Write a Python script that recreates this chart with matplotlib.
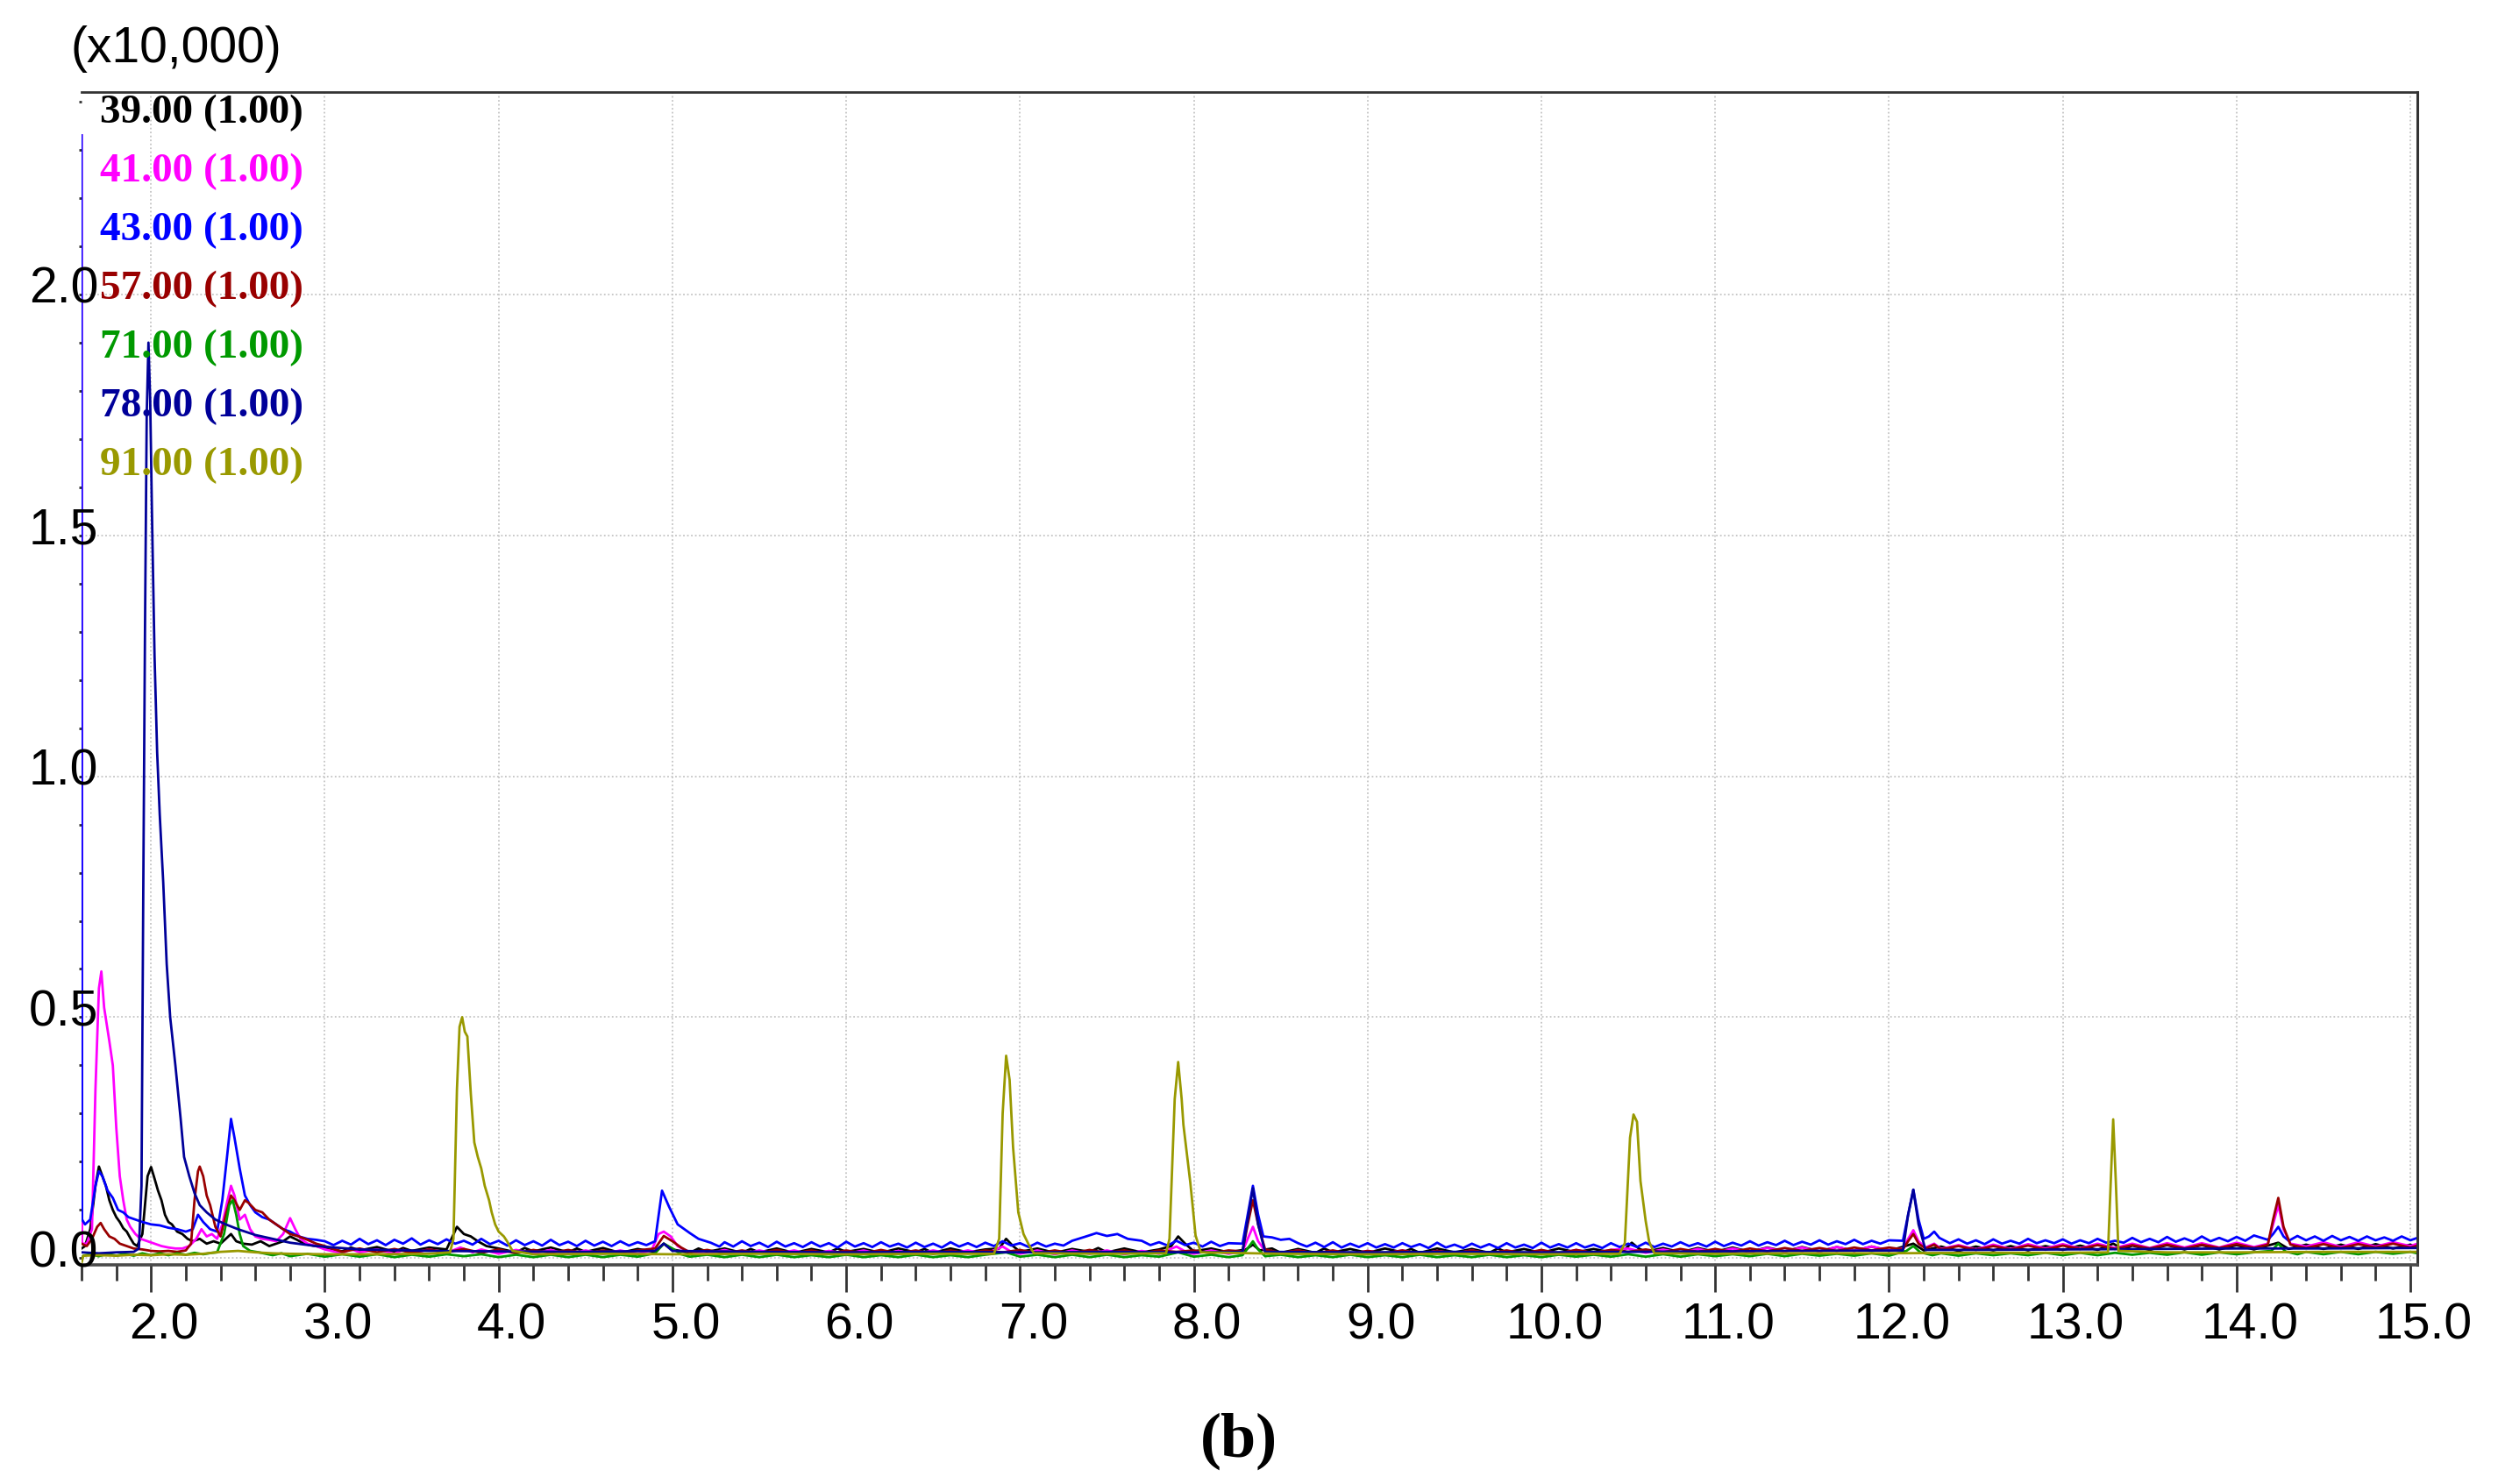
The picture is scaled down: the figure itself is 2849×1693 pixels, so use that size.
import matplotlib
matplotlib.use("Agg")
import matplotlib.pyplot as plt
import matplotlib.transforms as mtransforms
import numpy as np

# ion traces (retention time in min, intensity in x10,000 counts)
ion39 = [(1.600, 0.020), (1.620, 0.025), (1.650, 0.060), (1.680, 0.150), (1.700, 0.190), (1.720, 0.170),
         (1.740, 0.150), (1.760, 0.120), (1.780, 0.100), (1.800, 0.085), (1.820, 0.075), (1.840, 0.062),
         (1.860, 0.055), (1.880, 0.042), (1.900, 0.030), (1.920, 0.025), (1.950, 0.050), (1.980, 0.170),
         (2.000, 0.189), (2.020, 0.165), (2.040, 0.140), (2.060, 0.120), (2.080, 0.090), (2.100, 0.075),
         (2.120, 0.070), (2.150, 0.055), (2.180, 0.050), (2.210, 0.040), (2.240, 0.035), (2.280, 0.040),
         (2.320, 0.030), (2.360, 0.035), (2.400, 0.030), (2.430, 0.040), (2.460, 0.050), (2.490, 0.035),
         (2.530, 0.030), (2.580, 0.028), (2.630, 0.035), (2.680, 0.025), (2.720, 0.030), (2.760, 0.035),
         (2.800, 0.045), (2.840, 0.038), (2.880, 0.030), (2.930, 0.026), (3.000, 0.022), (3.100, 0.014),
         (3.150, 0.022), (3.200, 0.016), (3.300, 0.023), (3.400, 0.013), (3.450, 0.021), (3.500, 0.015),
         (3.600, 0.022), (3.700, 0.018), (3.760, 0.065), (3.800, 0.050), (3.840, 0.045), (3.880, 0.035),
         (3.930, 0.025), (4.000, 0.020), (4.100, 0.012), (4.150, 0.021), (4.200, 0.014), (4.300, 0.022),
         (4.400, 0.012), (4.450, 0.020), (4.500, 0.013), (4.600, 0.021), (4.700, 0.011), (4.800, 0.019),
         (4.900, 0.013), (4.950, 0.030), (5.000, 0.018), (5.100, 0.011), (5.150, 0.020), (5.200, 0.013),
         (5.300, 0.020), (5.400, 0.011), (5.450, 0.019), (5.500, 0.012), (5.600, 0.020), (5.700, 0.011),
         (5.800, 0.019), (5.900, 0.012), (5.950, 0.020), (6.000, 0.013), (6.100, 0.019), (6.200, 0.011),
         (6.300, 0.020), (6.400, 0.012), (6.450, 0.019), (6.500, 0.011), (6.600, 0.020), (6.700, 0.012),
         (6.800, 0.018), (6.880, 0.020), (6.920, 0.040), (6.960, 0.025), (7.000, 0.013), (7.100, 0.020),
         (7.200, 0.011), (7.300, 0.019), (7.400, 0.013), (7.450, 0.021), (7.500, 0.012), (7.600, 0.020),
         (7.700, 0.012), (7.800, 0.018), (7.870, 0.025), (7.910, 0.045), (7.950, 0.030), (8.000, 0.014),
         (8.100, 0.020), (8.200, 0.012), (8.300, 0.018), (8.340, 0.028), (8.380, 0.016), (8.450, 0.020),
         (8.500, 0.011), (8.600, 0.019), (8.700, 0.011), (8.750, 0.020), (8.800, 0.012), (8.900, 0.019),
         (9.000, 0.011), (9.100, 0.020), (9.200, 0.012), (9.250, 0.019), (9.300, 0.011), (9.400, 0.020),
         (9.500, 0.012), (9.600, 0.019), (9.700, 0.011), (9.750, 0.020), (9.800, 0.012), (9.900, 0.019),
         (10.000, 0.011), (10.100, 0.020), (10.200, 0.012), (10.300, 0.019), (10.400, 0.012), (10.480, 0.018),
         (10.520, 0.032), (10.560, 0.020), (10.600, 0.013), (10.700, 0.021), (10.800, 0.012), (10.900, 0.021),
         (11.000, 0.013), (11.100, 0.022), (11.200, 0.013), (11.300, 0.022), (11.400, 0.014), (11.500, 0.023),
         (11.600, 0.014), (11.700, 0.023), (11.800, 0.015), (11.900, 0.024), (12.000, 0.015), (12.140, 0.030),
         (12.200, 0.016), (12.300, 0.024), (12.400, 0.015), (12.500, 0.024), (12.600, 0.016), (12.700, 0.025),
         (12.800, 0.016), (12.900, 0.025), (13.000, 0.017), (13.100, 0.026), (13.200, 0.017), (13.290, 0.030),
         (13.350, 0.018), (13.400, 0.026), (13.500, 0.017), (13.600, 0.027), (13.700, 0.018), (13.800, 0.027),
         (13.900, 0.018), (14.000, 0.027), (14.100, 0.018), (14.240, 0.032), (14.300, 0.019), (14.400, 0.028),
         (14.500, 0.019), (14.600, 0.028), (14.700, 0.019), (14.800, 0.029), (14.900, 0.020), (15.000, 0.028),
         (15.040, 0.022)]

ion41 = [(1.600, 2.330), (1.603, 0.030), (1.630, 0.030), (1.660, 0.060), (1.680, 0.350), (1.700, 0.560),
         (1.714, 0.595), (1.730, 0.520), (1.760, 0.450), (1.780, 0.400), (1.800, 0.270), (1.820, 0.170),
         (1.840, 0.120), (1.860, 0.080), (1.880, 0.065), (1.910, 0.050), (1.940, 0.040), (1.980, 0.035),
         (2.020, 0.030), (2.060, 0.025), (2.100, 0.022), (2.140, 0.020), (2.180, 0.020), (2.220, 0.025),
         (2.260, 0.040), (2.290, 0.060), (2.320, 0.045), (2.350, 0.050), (2.380, 0.040), (2.410, 0.070),
         (2.440, 0.120), (2.460, 0.150), (2.480, 0.130), (2.510, 0.080), (2.540, 0.090), (2.570, 0.060),
         (2.600, 0.045), (2.640, 0.040), (2.680, 0.038), (2.720, 0.035), (2.760, 0.050), (2.800, 0.083),
         (2.830, 0.060), (2.860, 0.040), (2.900, 0.030), (2.950, 0.025), (3.000, 0.018), (3.100, 0.010),
         (3.150, 0.019), (3.200, 0.012), (3.300, 0.018), (3.400, 0.009), (3.450, 0.017), (3.500, 0.010),
         (3.600, 0.018), (3.700, 0.011), (3.780, 0.022), (3.850, 0.012), (3.900, 0.018), (4.000, 0.009),
         (4.100, 0.017), (4.200, 0.010), (4.300, 0.017), (4.400, 0.008), (4.500, 0.016), (4.600, 0.009),
         (4.700, 0.016), (4.800, 0.009), (4.880, 0.016), (4.920, 0.050), (4.950, 0.055), (4.990, 0.045),
         (5.030, 0.025), (5.080, 0.015), (5.200, 0.009), (5.300, 0.017), (5.400, 0.008), (5.500, 0.016),
         (5.600, 0.009), (5.700, 0.016), (5.800, 0.008), (5.900, 0.015), (6.000, 0.009), (6.100, 0.016),
         (6.200, 0.008), (6.300, 0.015), (6.400, 0.008), (6.500, 0.016), (6.600, 0.009), (6.700, 0.016),
         (6.800, 0.009), (6.900, 0.024), (6.950, 0.013), (7.000, 0.009), (7.100, 0.016), (7.200, 0.008),
         (7.300, 0.016), (7.400, 0.009), (7.500, 0.016), (7.600, 0.008), (7.700, 0.015), (7.800, 0.009),
         (7.900, 0.024), (7.960, 0.012), (8.000, 0.009), (8.100, 0.016), (8.200, 0.009), (8.280, 0.014),
         (8.310, 0.040), (8.340, 0.065), (8.370, 0.035), (8.410, 0.015), (8.500, 0.009), (8.600, 0.016),
         (8.700, 0.008), (8.800, 0.015), (8.900, 0.008), (9.000, 0.015), (9.100, 0.009), (9.200, 0.016),
         (9.300, 0.008), (9.400, 0.015), (9.500, 0.009), (9.600, 0.016), (9.700, 0.008), (9.800, 0.015),
         (9.900, 0.009), (10.000, 0.016), (10.100, 0.009), (10.200, 0.017), (10.300, 0.010), (10.400, 0.017),
         (10.500, 0.020), (10.600, 0.011), (10.700, 0.018), (10.800, 0.011), (10.900, 0.019), (11.000, 0.012),
         (11.100, 0.020), (11.200, 0.013), (11.300, 0.021), (11.400, 0.014), (11.500, 0.022), (11.600, 0.014),
         (11.700, 0.023), (11.800, 0.015), (11.900, 0.024), (12.000, 0.016), (12.080, 0.020), (12.110, 0.040),
         (12.140, 0.058), (12.170, 0.035), (12.210, 0.022), (12.260, 0.030), (12.300, 0.019), (12.400, 0.027),
         (12.500, 0.018), (12.600, 0.028), (12.700, 0.019), (12.800, 0.029), (12.900, 0.020), (13.000, 0.029),
         (13.100, 0.020), (13.200, 0.030), (13.300, 0.021), (13.400, 0.030), (13.500, 0.021), (13.600, 0.031),
         (13.700, 0.022), (13.800, 0.031), (13.900, 0.022), (14.000, 0.032), (14.100, 0.023), (14.180, 0.030),
         (14.210, 0.070), (14.240, 0.110), (14.270, 0.060), (14.310, 0.030), (14.400, 0.024), (14.500, 0.033),
         (14.600, 0.023), (14.700, 0.033), (14.800, 0.024), (14.900, 0.033), (15.000, 0.025), (15.040, 0.030)]

ion43 = [(1.600, 2.330), (1.603, 0.080), (1.620, 0.070), (1.650, 0.080), (1.680, 0.150), (1.700, 0.180),
         (1.720, 0.170), (1.750, 0.140), (1.780, 0.125), (1.810, 0.100), (1.840, 0.095), (1.870, 0.085),
         (1.910, 0.080), (1.950, 0.075), (2.000, 0.070), (2.050, 0.068), (2.100, 0.063), (2.150, 0.060),
         (2.200, 0.055), (2.240, 0.060), (2.270, 0.090), (2.300, 0.075), (2.340, 0.060), (2.380, 0.055),
         (2.410, 0.120), (2.440, 0.220), (2.460, 0.289), (2.480, 0.250), (2.510, 0.186), (2.540, 0.130),
         (2.570, 0.110), (2.600, 0.095), (2.640, 0.085), (2.680, 0.080), (2.720, 0.070), (2.760, 0.060),
         (2.800, 0.055), (2.850, 0.045), (2.900, 0.040), (2.950, 0.038), (3.000, 0.035), (3.050, 0.027),
         (3.100, 0.036), (3.150, 0.028), (3.200, 0.040), (3.250, 0.029), (3.300, 0.037), (3.350, 0.027),
         (3.400, 0.038), (3.450, 0.030), (3.500, 0.041), (3.550, 0.028), (3.600, 0.037), (3.650, 0.029),
         (3.700, 0.039), (3.750, 0.030), (3.800, 0.036), (3.850, 0.028), (3.900, 0.040), (3.950, 0.029),
         (4.000, 0.036), (4.050, 0.026), (4.100, 0.037), (4.150, 0.027), (4.200, 0.035), (4.250, 0.026),
         (4.300, 0.038), (4.350, 0.027), (4.400, 0.034), (4.450, 0.025), (4.500, 0.036), (4.550, 0.026),
         (4.600, 0.034), (4.650, 0.025), (4.700, 0.035), (4.750, 0.026), (4.800, 0.033), (4.850, 0.027),
         (4.900, 0.035), (4.940, 0.140), (4.980, 0.107), (5.030, 0.070), (5.100, 0.052), (5.150, 0.040),
         (5.220, 0.032), (5.270, 0.024), (5.300, 0.033), (5.350, 0.024), (5.400, 0.035), (5.450, 0.025),
         (5.500, 0.032), (5.550, 0.023), (5.600, 0.034), (5.650, 0.024), (5.700, 0.031), (5.750, 0.023),
         (5.800, 0.033), (5.850, 0.024), (5.900, 0.031), (5.950, 0.022), (6.000, 0.034), (6.050, 0.024),
         (6.100, 0.031), (6.150, 0.023), (6.200, 0.033), (6.250, 0.024), (6.300, 0.030), (6.350, 0.022),
         (6.400, 0.032), (6.450, 0.023), (6.500, 0.030), (6.550, 0.022), (6.600, 0.033), (6.650, 0.024),
         (6.700, 0.031), (6.750, 0.023), (6.800, 0.032), (6.850, 0.025), (6.900, 0.035), (6.950, 0.026),
         (7.000, 0.031), (7.050, 0.023), (7.100, 0.032), (7.150, 0.024), (7.200, 0.030), (7.250, 0.026),
         (7.300, 0.036), (7.380, 0.045), (7.440, 0.052), (7.500, 0.046), (7.560, 0.050), (7.620, 0.040),
         (7.700, 0.036), (7.750, 0.027), (7.800, 0.033), (7.850, 0.026), (7.900, 0.036), (7.950, 0.027),
         (8.000, 0.032), (8.050, 0.024), (8.100, 0.034), (8.150, 0.025), (8.200, 0.031), (8.280, 0.030),
         (8.310, 0.090), (8.340, 0.150), (8.370, 0.090), (8.400, 0.045), (8.450, 0.043), (8.500, 0.038),
         (8.550, 0.040), (8.600, 0.031), (8.650, 0.024), (8.700, 0.032), (8.750, 0.023), (8.800, 0.033),
         (8.850, 0.022), (8.900, 0.030), (8.950, 0.023), (9.000, 0.031), (9.050, 0.022), (9.100, 0.029),
         (9.150, 0.022), (9.200, 0.031), (9.250, 0.023), (9.300, 0.029), (9.350, 0.021), (9.400, 0.032),
         (9.450, 0.022), (9.500, 0.028), (9.550, 0.021), (9.600, 0.030), (9.650, 0.022), (9.700, 0.029),
         (9.750, 0.021), (9.800, 0.031), (9.850, 0.022), (9.900, 0.028), (9.950, 0.021), (10.000, 0.032),
         (10.050, 0.022), (10.100, 0.029), (10.150, 0.022), (10.200, 0.031), (10.250, 0.022), (10.300, 0.028),
         (10.350, 0.021), (10.400, 0.031), (10.450, 0.023), (10.500, 0.030), (10.550, 0.023), (10.600, 0.032),
         (10.650, 0.023), (10.700, 0.030), (10.750, 0.024), (10.800, 0.033), (10.850, 0.025), (10.900, 0.031),
         (10.950, 0.024), (11.000, 0.034), (11.050, 0.025), (11.100, 0.032), (11.150, 0.026), (11.200, 0.035),
         (11.250, 0.026), (11.300, 0.033), (11.350, 0.027), (11.400, 0.036), (11.450, 0.027), (11.500, 0.034),
         (11.550, 0.028), (11.600, 0.037), (11.650, 0.028), (11.700, 0.035), (11.750, 0.029), (11.800, 0.038),
         (11.850, 0.029), (11.900, 0.036), (11.950, 0.030), (12.000, 0.037), (12.080, 0.036), (12.110, 0.090),
         (12.140, 0.142), (12.170, 0.080), (12.200, 0.040), (12.230, 0.045), (12.260, 0.055), (12.290, 0.042),
         (12.350, 0.031), (12.400, 0.039), (12.450, 0.030), (12.500, 0.037), (12.550, 0.029), (12.600, 0.039),
         (12.650, 0.030), (12.700, 0.036), (12.750, 0.030), (12.800, 0.040), (12.850, 0.031), (12.900, 0.037),
         (12.950, 0.031), (13.000, 0.039), (13.050, 0.030), (13.100, 0.037), (13.150, 0.031), (13.200, 0.040),
         (13.250, 0.032), (13.300, 0.036), (13.350, 0.032), (13.400, 0.042), (13.450, 0.033), (13.500, 0.040),
         (13.550, 0.033), (13.600, 0.044), (13.650, 0.034), (13.700, 0.041), (13.750, 0.034), (13.800, 0.045),
         (13.850, 0.035), (13.900, 0.042), (13.950, 0.035), (14.000, 0.044), (14.050, 0.036), (14.100, 0.047),
         (14.180, 0.038), (14.210, 0.050), (14.240, 0.065), (14.270, 0.045), (14.300, 0.036), (14.350, 0.046),
         (14.400, 0.037), (14.450, 0.045), (14.500, 0.036), (14.550, 0.046), (14.600, 0.037), (14.650, 0.044),
         (14.700, 0.036), (14.750, 0.045), (14.800, 0.037), (14.850, 0.043), (14.900, 0.036), (14.950, 0.045),
         (15.000, 0.037), (15.040, 0.042)]

ion57 = [(1.600, 0.030), (1.630, 0.025), (1.660, 0.040), (1.690, 0.065), (1.710, 0.073), (1.730, 0.060),
         (1.760, 0.045), (1.790, 0.040), (1.820, 0.030), (1.860, 0.025), (1.900, 0.020), (1.950, 0.018),
         (2.000, 0.015), (2.050, 0.014), (2.100, 0.015), (2.150, 0.013), (2.200, 0.016), (2.230, 0.030),
         (2.250, 0.120), (2.270, 0.180), (2.280, 0.190), (2.300, 0.170), (2.320, 0.130), (2.340, 0.110),
         (2.370, 0.065), (2.400, 0.045), (2.430, 0.090), (2.460, 0.130), (2.480, 0.120), (2.510, 0.100),
         (2.540, 0.120), (2.560, 0.115), (2.600, 0.100), (2.640, 0.095), (2.680, 0.080), (2.720, 0.070),
         (2.760, 0.060), (2.800, 0.050), (2.850, 0.045), (2.900, 0.038), (2.950, 0.030), (3.000, 0.025),
         (3.100, 0.013), (3.200, 0.020), (3.300, 0.012), (3.400, 0.019), (3.500, 0.011), (3.600, 0.018),
         (3.700, 0.012), (3.800, 0.019), (3.900, 0.011), (4.000, 0.018), (4.100, 0.010), (4.200, 0.017),
         (4.300, 0.011), (4.400, 0.017), (4.500, 0.010), (4.600, 0.016), (4.700, 0.011), (4.800, 0.016),
         (4.900, 0.020), (4.950, 0.046), (5.000, 0.035), (5.050, 0.022), (5.100, 0.012), (5.200, 0.017),
         (5.300, 0.010), (5.400, 0.016), (5.500, 0.010), (5.600, 0.017), (5.700, 0.010), (5.800, 0.016),
         (5.900, 0.009), (6.000, 0.016), (6.100, 0.010), (6.200, 0.017), (6.300, 0.010), (6.400, 0.016),
         (6.500, 0.009), (6.600, 0.016), (6.700, 0.010), (6.800, 0.016), (6.900, 0.012), (7.000, 0.017),
         (7.100, 0.010), (7.200, 0.016), (7.300, 0.010), (7.400, 0.017), (7.500, 0.011), (7.600, 0.016),
         (7.700, 0.010), (7.800, 0.016), (7.900, 0.013), (8.000, 0.016), (8.100, 0.010), (8.200, 0.016),
         (8.280, 0.014), (8.310, 0.070), (8.340, 0.120), (8.370, 0.070), (8.410, 0.018), (8.500, 0.011),
         (8.600, 0.016), (8.700, 0.010), (8.800, 0.016), (8.900, 0.009), (9.000, 0.015), (9.100, 0.010),
         (9.200, 0.016), (9.300, 0.009), (9.400, 0.015), (9.500, 0.010), (9.600, 0.016), (9.700, 0.010),
         (9.800, 0.016), (9.900, 0.010), (10.000, 0.017), (10.100, 0.010), (10.200, 0.017), (10.300, 0.011),
         (10.400, 0.017), (10.500, 0.013), (10.600, 0.018), (10.700, 0.012), (10.800, 0.019), (10.900, 0.013),
         (11.000, 0.019), (11.100, 0.013), (11.200, 0.020), (11.300, 0.014), (11.400, 0.021), (11.500, 0.015),
         (11.600, 0.021), (11.700, 0.015), (11.800, 0.022), (11.900, 0.016), (12.000, 0.022), (12.080, 0.018),
         (12.110, 0.035), (12.140, 0.050), (12.170, 0.030), (12.210, 0.020), (12.260, 0.028), (12.300, 0.018),
         (12.400, 0.025), (12.500, 0.017), (12.600, 0.025), (12.700, 0.018), (12.800, 0.026), (12.900, 0.018),
         (13.000, 0.026), (13.100, 0.019), (13.200, 0.027), (13.300, 0.019), (13.400, 0.027), (13.500, 0.020),
         (13.600, 0.028), (13.700, 0.020), (13.800, 0.028), (13.900, 0.021), (14.000, 0.029), (14.100, 0.021),
         (14.180, 0.028), (14.210, 0.080), (14.240, 0.125), (14.270, 0.065), (14.310, 0.028), (14.400, 0.021),
         (14.500, 0.029), (14.600, 0.021), (14.700, 0.029), (14.800, 0.022), (14.900, 0.030), (15.000, 0.022),
         (15.040, 0.026)]

ion71 = [(1.600, -0.005), (1.610, 0.005), (1.650, 0.008), (1.700, 0.004), (1.750, 0.009), (1.800, 0.005),
         (1.850, 0.009), (1.900, 0.005), (1.950, 0.010), (2.000, 0.006), (2.050, 0.010), (2.100, 0.006),
         (2.150, 0.010), (2.200, 0.007), (2.250, 0.011), (2.300, 0.008), (2.350, 0.011), (2.380, 0.012),
         (2.420, 0.050), (2.450, 0.110), (2.470, 0.120), (2.490, 0.090), (2.510, 0.050), (2.530, 0.025),
         (2.570, 0.015), (2.620, 0.012), (2.700, 0.006), (2.750, 0.010), (2.800, 0.004), (2.900, 0.009),
         (3.000, 0.003), (3.100, 0.008), (3.200, 0.003), (3.300, 0.008), (3.400, 0.002), (3.500, 0.007),
         (3.600, 0.003), (3.700, 0.008), (3.800, 0.004), (3.900, 0.008), (4.000, 0.002), (4.100, 0.007),
         (4.200, 0.002), (4.300, 0.007), (4.400, 0.002), (4.500, 0.007), (4.600, 0.002), (4.700, 0.007),
         (4.800, 0.003), (4.900, 0.010), (4.950, 0.030), (5.000, 0.020), (5.050, 0.008), (5.100, 0.003),
         (5.200, 0.007), (5.300, 0.002), (5.400, 0.007), (5.500, 0.002), (5.600, 0.007), (5.700, 0.002),
         (5.800, 0.006), (5.900, 0.002), (6.000, 0.007), (6.100, 0.002), (6.200, 0.006), (6.300, 0.002),
         (6.400, 0.007), (6.500, 0.002), (6.600, 0.006), (6.700, 0.002), (6.800, 0.007), (6.920, 0.012),
         (7.000, 0.003), (7.100, 0.007), (7.200, 0.002), (7.300, 0.007), (7.400, 0.002), (7.500, 0.007),
         (7.600, 0.002), (7.700, 0.006), (7.800, 0.003), (7.910, 0.012), (8.000, 0.003), (8.100, 0.007),
         (8.200, 0.002), (8.280, 0.006), (8.310, 0.020), (8.340, 0.035), (8.370, 0.018), (8.410, 0.004),
         (8.500, 0.007), (8.600, 0.002), (8.700, 0.006), (8.800, 0.002), (8.900, 0.007), (9.000, 0.002),
         (9.100, 0.006), (9.200, 0.002), (9.300, 0.007), (9.400, 0.002), (9.500, 0.006), (9.600, 0.002),
         (9.700, 0.007), (9.800, 0.002), (9.900, 0.006), (10.000, 0.002), (10.100, 0.007), (10.200, 0.003),
         (10.300, 0.007), (10.400, 0.003), (10.500, 0.008), (10.600, 0.003), (10.700, 0.008), (10.800, 0.003),
         (10.900, 0.008), (11.000, 0.004), (11.100, 0.008), (11.200, 0.004), (11.300, 0.009), (11.400, 0.004),
         (11.500, 0.009), (11.600, 0.005), (11.700, 0.009), (11.800, 0.005), (11.900, 0.010), (12.000, 0.005),
         (12.100, 0.015), (12.140, 0.025), (12.180, 0.012), (12.250, 0.006), (12.300, 0.010), (12.400, 0.005),
         (12.500, 0.010), (12.600, 0.006), (12.700, 0.010), (12.800, 0.006), (12.900, 0.011), (13.000, 0.006),
         (13.100, 0.011), (13.200, 0.006), (13.300, 0.011), (13.400, 0.007), (13.500, 0.011), (13.600, 0.007),
         (13.700, 0.012), (13.800, 0.007), (13.900, 0.012), (14.000, 0.008), (14.100, 0.012), (14.200, 0.015),
         (14.240, 0.030), (14.280, 0.014), (14.350, 0.008), (14.400, 0.013), (14.500, 0.008), (14.600, 0.013),
         (14.700, 0.008), (14.800, 0.013), (14.900, 0.009), (15.000, 0.013), (15.040, 0.010)]

ion78 = [(1.600, 0.012), (1.700, 0.010), (1.800, 0.012), (1.900, 0.013), (1.930, 0.020), (1.945, 0.150),
         (1.955, 0.750), (1.965, 1.300), (1.975, 1.750), (1.985, 1.900), (1.995, 1.780), (2.005, 1.550),
         (2.020, 1.250), (2.035, 1.050), (2.050, 0.920), (2.070, 0.780), (2.090, 0.610), (2.110, 0.500),
         (2.140, 0.400), (2.170, 0.290), (2.190, 0.210), (2.220, 0.170), (2.250, 0.135), (2.280, 0.110),
         (2.320, 0.095), (2.370, 0.080), (2.430, 0.070), (2.500, 0.060), (2.600, 0.048), (2.700, 0.040),
         (2.800, 0.032), (2.950, 0.025), (3.200, 0.018), (3.600, 0.015), (4.000, 0.014), (4.500, 0.013),
         (4.900, 0.015), (4.950, 0.030), (5.000, 0.015), (5.500, 0.013), (6.000, 0.012), (6.500, 0.013),
         (7.000, 0.012), (7.500, 0.013), (8.000, 0.012), (8.280, 0.013), (8.310, 0.080), (8.340, 0.145),
         (8.370, 0.070), (8.410, 0.013), (9.000, 0.012), (9.500, 0.013), (10.000, 0.012), (10.500, 0.013),
         (11.000, 0.014), (11.500, 0.015), (12.080, 0.016), (12.110, 0.090), (12.140, 0.142), (12.170, 0.070),
         (12.210, 0.017), (12.500, 0.017), (13.000, 0.018), (13.500, 0.019), (14.000, 0.020), (14.500, 0.020),
         (15.040, 0.021)]

ion91 = [(1.600, -0.010), (1.610, 0.005), (1.700, 0.006), (1.800, 0.005), (1.900, 0.007), (2.000, 0.006),
         (2.100, 0.008), (2.200, 0.007), (2.300, 0.009), (2.400, 0.013), (2.500, 0.015), (2.600, 0.012),
         (2.700, 0.010), (2.800, 0.009), (3.000, 0.008), (3.300, 0.008), (3.600, 0.009), (3.720, 0.012),
         (3.740, 0.040), (3.760, 0.350), (3.775, 0.480), (3.790, 0.500), (3.805, 0.470), (3.820, 0.460),
         (3.840, 0.340), (3.860, 0.240), (3.880, 0.210), (3.900, 0.186), (3.920, 0.150), (3.945, 0.120),
         (3.960, 0.095), (3.980, 0.070), (4.000, 0.055), (4.030, 0.045), (4.050, 0.034), (4.080, 0.015),
         (4.200, 0.008), (4.600, 0.009), (5.000, 0.008), (5.500, 0.009), (6.000, 0.008), (6.500, 0.009),
         (6.850, 0.009), (6.880, 0.040), (6.900, 0.300), (6.920, 0.420), (6.940, 0.370), (6.960, 0.230),
         (6.990, 0.095), (7.020, 0.050), (7.050, 0.028), (7.080, 0.010), (7.500, 0.009), (7.840, 0.010),
         (7.860, 0.040), (7.890, 0.330), (7.910, 0.407), (7.930, 0.330), (7.940, 0.277), (7.980, 0.156),
         (8.010, 0.047), (8.040, 0.012), (8.500, 0.009), (9.000, 0.008), (9.500, 0.009), (10.000, 0.008),
         (10.450, 0.009), (10.480, 0.031), (10.510, 0.250), (10.530, 0.298), (10.550, 0.283), (10.570, 0.160),
         (10.600, 0.077), (10.620, 0.034), (10.650, 0.010), (11.000, 0.009), (11.500, 0.010), (12.000, 0.010),
         (12.500, 0.011), (13.000, 0.011), (13.260, 0.012), (13.275, 0.150), (13.290, 0.288), (13.305, 0.160),
         (13.320, 0.015), (13.600, 0.012), (14.000, 0.012), (14.500, 0.013), (15.040, 0.013)]

traces = [ion39, ion41, ion43, ion57, ion71, ion78, ion91]
trace_labels = ["39.00 (1.00)", "41.00 (1.00)", "43.00 (1.00)", "57.00 (1.00)",
                "71.00 (1.00)", "78.00 (1.00)", "91.00 (1.00)"]
trace_colors = ["#000000", "#ff00ff", "#0000ff", "#990000", "#009900", "#000099", "#999900"]

x_ticks = [2.0, 3.0, 4.0, 5.0, 6.0, 7.0, 8.0, 9.0, 10.0, 11.0, 12.0, 13.0, 14.0, 15.0]
y_ticks = [0.0, 0.5, 1.0, 1.5, 2.0]

W, H = 2849, 1693
fig = plt.figure(figsize=(W / 100, H / 100), dpi=100)
# axes box measured in pixels: left 93, right 2757, top 105, bottom 1443
ax = fig.add_axes([93 / W, 1 - 1443 / H, (2757 - 93) / W, (1443 - 105) / H])

for pts, col in zip(traces, trace_colors):
    rt = [p[0] for p in pts]
    val = [p[1] for p in pts]
    ax.plot(rt, val, color=col, lw=2.0, solid_joinstyle="round")

ax.set_xlim(1.6, 15.04)
ax.set_ylim(-0.014, 2.42)

ax.set_xticks(x_ticks)
ax.set_xticks(np.arange(1.6, 15.05, 0.2), minor=True)
ax.set_yticks(y_ticks)
ax.set_yticks(np.arange(0.0, 2.45, 0.1), minor=True)
ax.tick_params(axis="x", which="major", direction="out", length=22, width=2, color="#333333",
               labelbottom=False)
ax.tick_params(axis="x", which="minor", direction="out", length=13, width=2, color="#333333")
ax.tick_params(axis="y", which="both", direction="out", length=2.2, width=2, color="#333333",
               labelleft=False)

ax.grid(True, which="major", color="#c4c4c4", linestyle=(0, (1, 1.5)), linewidth=1.3)
ax.set_axisbelow(True)

ax.spines["left"].set_visible(False)
ax.spines["top"].set_color("#333333")
ax.spines["top"].set_linewidth(2.0)
ax.spines["right"].set_color("#333333")
ax.spines["right"].set_linewidth(2.2)
ax.spines["bottom"].set_color("#4a4a4a")
ax.spines["bottom"].set_linewidth(2.6)

sans = "Liberation Sans"
serif = "Liberation Serif"

# tick labels, drawn slightly shifted like the instrument software does
xlab_tr = mtransforms.blended_transform_factory(ax.transData, ax.transAxes) + \
    mtransforms.ScaledTranslation(0.15, -0.84, fig.dpi_scale_trans)
for t in x_ticks:
    ax.text(t, 0, f"{t:.1f}", transform=xlab_tr, ha="center", va="baseline",
            fontsize=41, family=sans, clip_on=False)

ylab_tr = mtransforms.blended_transform_factory(ax.transAxes, ax.transData) + \
    mtransforms.ScaledTranslation(0.19, -0.10, fig.dpi_scale_trans)
for t in y_ticks:
    ax.text(0, t, f"{t:.1f}", transform=ylab_tr, ha="right", va="baseline",
            fontsize=41, family=sans, clip_on=False, zorder=5)

fig.text(80 / W, 1 - 71 / H, "(x10,000)", fontsize=41, family=sans, va="baseline")

# ion legend in the upper-left corner
for i, (lab, col) in enumerate(zip(trace_labels, trace_colors)):
    fig.text(114 / W, 1 - (140 + 67 * i) / H, lab, color=col, fontsize=34,
             family=serif, fontweight="bold", va="baseline")

fig.text(1413 / W, 1 - 1662 / H, "(b)", fontsize=52, family=serif, fontweight="bold",
         ha="center", va="baseline")

fig.savefig("out.png", dpi=100, facecolor="white")
